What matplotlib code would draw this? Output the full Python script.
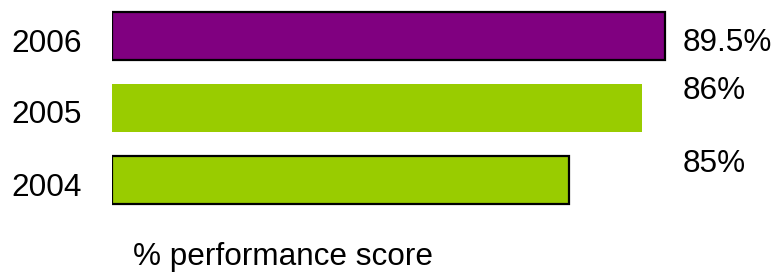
import matplotlib
matplotlib.use("Agg")
import matplotlib.pyplot as plt

plt.rcParams['font.family'] = ['Liberation Sans', 'DejaVu Sans']

years = ["2004", "2005", "2006"]
scores = ["85%", "86%", "89.5%"]
bar_lengths = [74.0, 85.8, 89.5]   # bar lengths as drawn in the picture
colors = ["#99CC00", "#99CC00", "#800080"]
edges = ["black", "none", "black"]

W, H = 775, 273
fig = plt.figure(figsize=(W / 100, H / 100), dpi=100)
px_per_unit = 6.174
ax = fig.add_axes([112 / W, 0, (W - 112) / W, 1])
ax.set_xlim(0, (W - 112) / px_per_unit)
ax.set_ylim(-(273 - 180) / 72, 2 + 36 / 72)
ax.axis("off")

ypos = list(range(len(years)))
for i in ypos:
    ax.barh(i, bar_lengths[i], height=0.665, color=colors[i],
            edgecolor=edges[i], linewidth=1.6 if edges[i] != "none" else 0)

def ptext(x, y, s, **kw):
    fig.text(x / W, 1 - y / H, s, fontsize=22.7, va="baseline", ha="left", **kw)

year_baselines = [195.7, 122.7, 51.7]
score_baselines = [171.7, 99, 51]
for i in ypos:
    ptext(11, year_baselines[i], years[i])
    ptext(683, score_baselines[i], scores[i])

ptext(133, 265.5, "% performance score")

fig.savefig("out.png", dpi=100)
